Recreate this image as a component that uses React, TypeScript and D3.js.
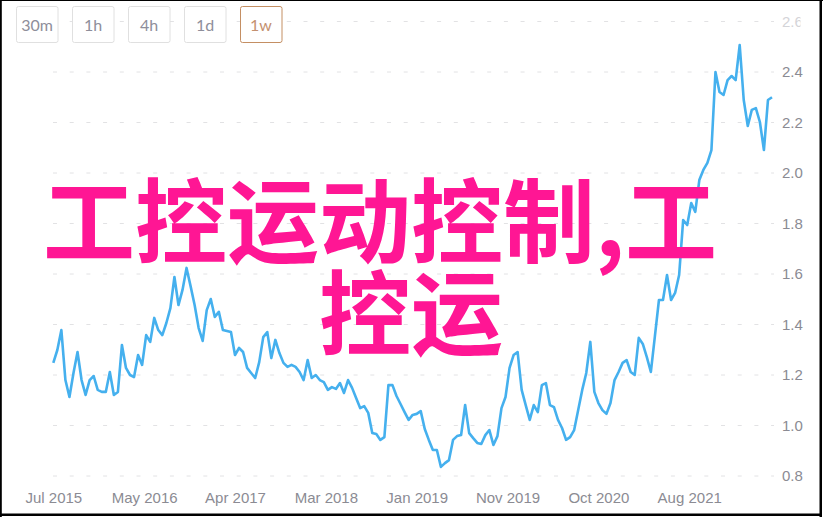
import React, { useEffect, useRef } from "react";
import { select, scaleLinear, line, axisBottom, axisRight, format } from "d3";

// one reading every two weeks, Jul 2015 -> May 2022
const priceValues = [
  1.248, 1.299, 1.378, 1.18, 1.113, 1.208, 1.291, 1.18, 1.121, 1.18,
  1.196, 1.141, 1.133, 1.133, 1.212, 1.121, 1.133, 1.319, 1.228, 1.2,
  1.192, 1.279, 1.24, 1.358, 1.331, 1.426, 1.378, 1.358, 1.406, 1.465,
  1.588, 1.477, 1.537, 1.624, 1.552, 1.477, 1.386, 1.335, 1.457, 1.501,
  1.43, 1.45, 1.378, 1.374, 1.37, 1.279, 1.307, 1.291, 1.228, 1.208,
  1.188, 1.251, 1.35, 1.37, 1.267, 1.339, 1.287, 1.248, 1.232, 1.24,
  1.232, 1.212, 1.18, 1.259, 1.188, 1.2, 1.18, 1.172, 1.141, 1.152,
  1.145, 1.168, 1.129, 1.18, 1.149, 1.109, 1.069, 1.077, 1.05, 0.97,
  0.966, 0.943, 0.954, 1.16, 1.16, 1.117, 1.085, 1.053, 1.022, 1.042,
  1.046, 1.057, 0.986, 0.943, 0.903, 0.903, 0.836, 0.851, 0.863, 0.943,
  0.958, 0.962, 1.081, 0.97, 0.95, 0.931, 0.927, 0.962, 0.982, 0.923,
  0.958, 1.069, 1.113, 1.228, 1.279, 1.291, 1.141, 1.081, 1.022, 1.081,
  1.053, 1.16, 1.168, 1.081, 1.073, 1.022, 0.99, 0.943, 0.954, 0.982,
  1.061, 1.141, 1.208, 1.331, 1.133, 1.089, 1.061, 1.046, 1.089, 1.18,
  1.212, 1.248, 1.259, 1.212, 1.2, 1.347, 1.323, 1.271, 1.212, 1.354,
  1.497, 1.497, 1.596, 1.497, 1.525, 1.596, 1.814, 1.794, 1.881, 1.846,
  1.972, 2.012, 2.04, 2.091, 2.4, 2.321, 2.309, 2.368, 2.384, 2.368,
  2.507, 2.289, 2.186, 2.25, 2.257, 2.202, 2.091, 2.289, 2.3,
];

const weeksPerValue = 2;
const yTicks = [0.8, 1.0, 1.2, 1.4, 1.6, 1.8, 2.0, 2.2, 2.4, 2.6];
const tickWeeks = [0, 45, 90, 135, 180, 225, 270, 315];
const tickLabels = ["Jul 2015", "May 2016", "Apr 2017", "Mar 2018", "Jan 2019", "Nov 2019", "Oct 2020", "Aug 2021"];
const intervals = ["30m", "1h", "4h", "1d", "1w"];
const activeInterval = "1w";
const titleLines = ["工控运动控制,工", "控运"];

const App = (): JSX.Element => {
  const ref = useRef<SVGSVGElement>(null);

  useEffect(() => {
    const width = 823;
    const height = 517;
    const svg = select(ref.current).attr("width", width).attr("height", height);
    svg.selectAll("*").remove();

    const lastWeek = (priceValues.length - 1) * weeksPerValue;
    const x = scaleLinear().domain([0, lastWeek]).range([53.3, 772]);
    const y = scaleLinear().domain([0.8, 2.6]).range([476, 21.5]);

    svg.append("rect").attr("width", width).attr("height", height).attr("fill", "#fff");

    // dashed grid
    svg.append("g")
      .selectAll("line")
      .data(yTicks)
      .join("line")
      .attr("x1", 53)
      .attr("x2", 774)
      .attr("y1", (d) => y(d))
      .attr("y2", (d) => y(d))
      .attr("stroke", "#e2e2e4")
      .attr("stroke-width", 1)
      .attr("stroke-dasharray", "4 12.7");

    // price line
    const path = line<number>()
      .x((_, i) => x(i * weeksPerValue))
      .y((d) => y(d));
    svg.append("path")
      .datum(priceValues)
      .attr("d", path)
      .attr("fill", "none")
      .attr("stroke", "#45b0ee")
      .attr("stroke-width", 2.6)
      .attr("stroke-linejoin", "round");

    // right axis (top label is cut off at the edge)
    svg.append("clipPath").attr("id", "axis-clip")
      .append("rect").attr("x", -5).attr("y", -20).attr("width", 23.5).attr("height", 40);
    const yAxis = svg.append("g")
      .attr("transform", "translate(782,0)")
      .call(axisRight(y).tickValues(yTicks).tickFormat(format(".1f")).tickSize(0).tickPadding(0));
    yAxis.select(".domain").remove();
    yAxis.attr("font-family", "'Liberation Sans', Arial, sans-serif").attr("font-size", 15);
    yAxis.selectAll("text")
      .attr("fill", (d) => ((d as number) === 2.6 ? "#d4d4d8" : "#8b8b93"))
      .attr("text-anchor", "start");
    yAxis.selectAll<SVGGElement, number>(".tick")
      .filter((d) => d === 2.6)
      .attr("clip-path", "url(#axis-clip)");

    // bottom axis
    const xAxis = svg.append("g")
      .attr("transform", "translate(0,492)")
      .call(
        axisBottom(x)
          .tickValues(tickWeeks)
          .tickFormat((_, i) => tickLabels[i])
          .tickSize(0)
          .tickPadding(0)
      );
    xAxis.select(".domain").remove();
    xAxis.attr("font-family", "'Liberation Sans', Arial, sans-serif").attr("font-size", 15);
    xAxis.selectAll("text").attr("fill", "#8b8b93");

    // interval buttons
    const buttons = svg.append("g")
      .selectAll("g")
      .data(intervals)
      .join("g")
      .attr("transform", (_, i) => `translate(${16 + i * 56},6)`);
    buttons.append("rect")
      .attr("x", 0.5)
      .attr("y", 0.5)
      .attr("width", 41.5)
      .attr("height", 36)
      .attr("rx", 2)
      .attr("fill", "#fff")
      .attr("stroke", (d) => (d === activeInterval ? "#c48f63" : "#e0e0e0"));
    buttons.append("text")
      .attr("x", 21)
      .attr("y", 24.5)
      .attr("text-anchor", "middle")
      .attr("font-family", "Lato, 'Open Sans', sans-serif")
      .attr("font-size", 16)
      .attr("fill", (d) => (d === activeInterval ? "#c49170" : "#8e8e9a"))
      .text((d) => d);

    // overlay title
    svg.append("g")
      .selectAll("text")
      .data(titleLines)
      .join("text")
      .attr("x", (_, i) => (i === 0 ? 43 : 319))
      .attr("y", (_, i) => 256 + i * 92)
      .attr("font-family", "'Noto Sans CJK SC', sans-serif")
      .attr("font-weight", "bold")
      .attr("font-size", 92)
      .attr("fill", "#ff1694")
      .text((d) => d);

    // frame
    svg.append("rect").attr("x", 0).attr("y", 0).attr("width", 1.8).attr("height", height).attr("fill", "#000");
    svg.append("rect").attr("x", 0).attr("y", 0).attr("width", width).attr("height", 1).attr("fill", "#000");
    svg.append("rect").attr("x", 819.5).attr("y", 0).attr("width", 2.5).attr("height", height).attr("fill", "#000");
    svg.append("rect").attr("x", 0).attr("y", 513.5).attr("width", 822).attr("height", 2.5).attr("fill", "#000");
  }, []);

  return (
    <div>
      <svg ref={ref} style={{ position: "absolute", left: 0, top: 0, display: "block" }} />
    </div>
  );
};

export default App;
